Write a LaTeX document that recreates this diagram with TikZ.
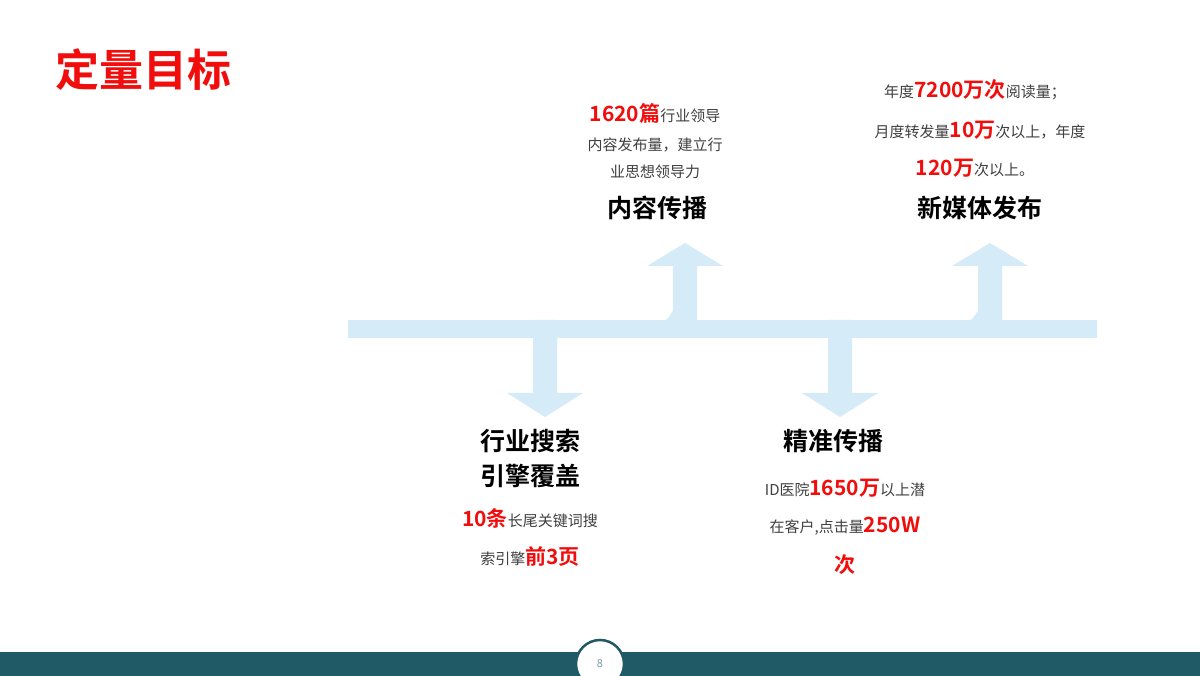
\documentclass[tikz,border=0pt]{standalone}
\usepackage{fontspec}
\setmainfont{Noto Sans CJK SC}
\newfontfamily\cjkb{Noto Sans CJK SC Bold}
\definecolor{lb}{HTML}{D5EBF7}
\definecolor{teal}{HTML}{1F5A66}
\definecolor{rd}{HTML}{F20D0D}
\definecolor{gy}{HTML}{404040}
\begin{document}
\begin{tikzpicture}[x=1pt,y=-1pt,
  sm/.style={text=gy,font=\fontsize{15}{18}\selectfont,inner sep=0pt,anchor=center},
  hd/.style={text=black,font=\cjkb\fontsize{25}{30}\selectfont,inner sep=0pt,anchor=center}]
\newcommand\R[1]{{\cjkb\color{rd}\fontsize{21}{24}\selectfont #1}}
\useasboundingbox (0,0) rectangle (1200,676);
\fill[white] (0,0) rectangle (1200,676);
% arrows
\fill[lb] (348,320) rectangle (1097,338);
\foreach \c in {685,990}{
  \fill[lb] (\c-12,338) -- (\c-12,266) -- (\c-38,266) -- (\c,243) -- (\c+38,266) -- (\c+12,266) -- (\c+12,338) -- cycle;
  \fill[lb] (\c-20,320) -- (\c-12,320) -- (\c-12,312) to[out=90,in=0] (\c-20,320);
}
\foreach \c in {545,840}{
  \fill[lb] (\c-12,320) -- (\c-12,393) -- (\c-38,393) -- (\c,417) -- (\c+38,393) -- (\c+12,393) -- (\c+12,320) -- cycle;
}
% title
\node[inner sep=0pt,anchor=west,text=rd,font=\cjkb\fontsize{44}{50}\selectfont] (title) at (55,70) {定量目标};
% top-left
\node[sm] (a1) at (655,113) {\R{1620篇}行业领导};
\node[sm] (a2) at (655,145) {内容发布量，建立行};
\node[sm] (a3) at (655,172) {业思想领导力};
\node[hd] (a4) at (657,208) {内容传播};
% top-right
\node[sm] (b1) at (975,90) {年度\R{7200万次}阅读量；};
\node[sm] (b2) at (980,130) {月度转发量\R{10万}次以上，年度};
\node[sm] (b3) at (975,168) {\R{120万}次以上。};
\node[hd] (b4) at (980,208) {新媒体发布};
% bottom-left
\node[hd] (c1) at (530,441) {行业搜索};
\node[hd] (c2) at (530,476) {引擎覆盖};
\node[sm] (c3) at (530,518) {\R{10条}长尾关键词搜};
\node[sm] (c4) at (530,556) {索引擎\R{前3页}};
% bottom-right
\node[hd] (d1) at (833,441) {精准传播};
\node[sm] (d2) at (845,488) {ID医院\R{1650万}以上潜};
\node[sm] (d3) at (845,526) {在客户,点击量\R{250W}};
\node[sm] (d4) at (845,565) {\R{次}};
% footer
\fill[teal] (0,652) rectangle (1200,676);
\fill[white,draw=teal,line width=2.5pt] (600,664) circle (24);
\node[text=teal!60,font=\fontsize{11}{12}\selectfont] (pg) at (600,664) {8};
\end{tikzpicture}
\end{document}
